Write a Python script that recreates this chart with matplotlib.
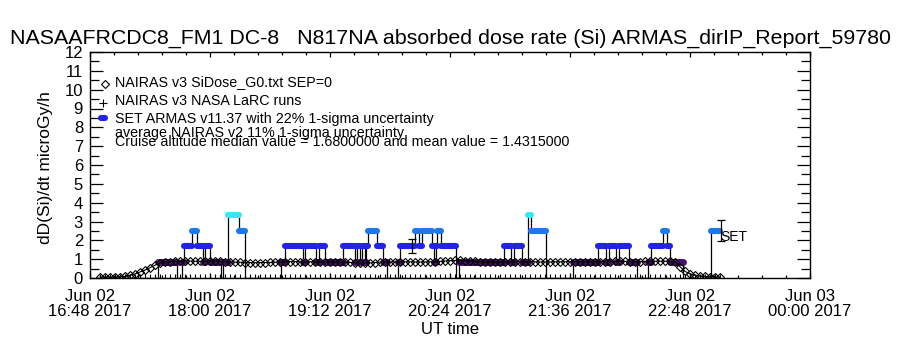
import numpy as np
import matplotlib
matplotlib.use("Agg")
import matplotlib.pyplot as plt
from matplotlib import font_manager
from matplotlib.collections import LineCollection
from matplotlib.ticker import MultipleLocator, AutoMinorLocator

# --- data (UT hours on 2017-06-02) -------------------------------------
# NAIRAS v3 model dose rate, 3-minute samples starting at 16:54 UT
model_t0, model_dt = 16.9, 0.05
model_v = [0.05, 0.05, 0.05, 0.06, 0.07, 0.08,
           0.15, 0.22, 0.32, 0.42, 0.55, 0.68, 0.80, 0.85,
           0.87, 0.88, 0.88, 0.90, 0.90, 0.89, 0.88, 0.88, 0.90, 0.90,
           0.88, 0.86, 0.85, 0.84, 0.84,
           0.82, 0.82, 0.81, 0.82, 0.82, 0.83, 0.84, 0.85,
           0.86, 0.87, 0.87, 0.86, 0.86, 0.86, 0.85, 0.85, 0.86, 0.86,
           0.85, 0.84, 0.84, 0.83,
           0.82, 0.80, 0.79, 0.80, 0.82, 0.84, 0.85, 0.85, 0.86, 0.86,
           0.86, 0.86, 0.85, 0.85, 0.85, 0.86, 0.86, 0.88, 0.90,
           0.92, 0.93, 0.93, 0.92, 0.90, 0.88, 0.87,
           0.86, 0.86, 0.85, 0.85, 0.85, 0.85, 0.86, 0.86, 0.86, 0.86,
           0.86, 0.85, 0.85, 0.85, 0.86, 0.86,
           0.86, 0.87, 0.87, 0.87, 0.87, 0.87, 0.87, 0.86, 0.86, 0.87,
           0.88, 0.88, 0.88, 0.87, 0.87, 0.87,
           0.88, 0.88, 0.89, 0.89, 0.89, 0.88, 0.86,
           0.60, 0.35, 0.22, 0.15, 0.10, 0.08, 0.06, 0.05, 0.05]
model_t = model_t0 + model_dt * np.arange(len(model_v))

# NAIRAS v3 NASA LaRC runs: no dose, plotted along zero on the same times
larc_v = np.zeros(len(model_v))

# ARMAS: quantised dose rate, one entry per run of equal readings
armas_start = [16.88, 17.48, 17.67, 17.72, 17.74, 17.82, 17.87, 17.93,
               17.95, 18.00, 18.11, 18.13, 18.18, 18.29, 18.35, 18.71,
               18.75, 18.93, 18.95, 19.06, 19.09, 19.15, 19.33, 19.45,
               19.47, 19.50, 19.52, 19.55, 19.56, 19.58, 19.67, 19.73,
               19.77, 19.88, 19.90, 20.05, 20.09, 20.12, 20.22, 20.24,
               20.26, 20.27, 20.31, 20.46, 20.49, 20.94, 21.01, 21.04,
               21.12, 21.18, 21.21, 21.36, 21.63, 21.88, 21.96, 21.99,
               22.06, 22.09, 22.19, 22.27, 22.38, 22.41, 22.53, 22.57,
               22.60, 22.73, 23.01]
armas_level = [0.00, 0.84, 0.00, 0.84, 1.68, 2.52, 1.68, 0.84,
               1.68, 0.84, 0.00, 0.84, 3.36, 2.52, 0.00, 0.84,
               1.68, 0.84, 1.68, 0.84, 1.68, 0.84, 1.68, 0.84,
               1.68, 0.84, 1.68, 0.84, 1.68, 2.52, 1.68, 0.84,
               0.00, 0.84, 1.68, 2.52, 1.68, 2.52, 1.68, 0.84,
               1.68, 2.52, 1.68, 0.00, 0.84, 1.68, 0.84, 1.68,
               0.84, 3.36, 2.52, 0.00, 0.84, 1.68, 0.84, 1.68,
               0.84, 1.68, 0.84, 0.00, 0.84, 1.68, 2.52, 1.68,
               0.84, 0.00, 2.52]
armas_end = 23.10

# 22% 1-sigma ARMAS uncertainty bars
err_t = [20.02, 23.105]
err_v = [1.68, 2.52]
err_frac = 0.22

level_colors = {0.84: "#4b0f6e", 1.68: "#2323e6", 2.52: "#1e78e6", 3.36: "#3ce6f0"}

xtick_hours = [16.8, 18.0, 19.2, 20.4, 21.6, 22.8, 24.0]
xtick_labels = ["Jun 02\n16:48 2017", "Jun 02\n18:00 2017", "Jun 02\n19:12 2017",
                "Jun 02\n20:24 2017", "Jun 02\n21:36 2017", "Jun 02\n22:48 2017",
                "Jun 03\n00:00 2017"]

title = "NASAAFRCDC8_FM1 DC-8   N817NA absorbed dose rate (Si) ARMAS_dirIP_Report_59780"
legend_lines = ["NAIRAS v3 SiDose_G0.txt SEP=0",
                "NAIRAS v3 NASA LaRC runs",
                "SET ARMAS v11.37 with 22% 1-sigma uncertainty",
                "average NAIRAS v2 11% 1-sigma uncertainty",
                "Cruise altitude median value = 1.6800000 and mean value = 1.4315000"]

# --- style ------------------------------------------------------------
names = {f.name for f in font_manager.fontManager.ttflist}
FONT = "Liberation Sans Narrow" if "Liberation Sans Narrow" in names else "Liberation Sans"
plt.rcParams["font.family"] = [FONT, "DejaVu Sans"]

W, H = 900, 350
fig = plt.figure(figsize=(9, 3.5), dpi=100)
ax = fig.add_axes([90 / W, 1 - 278 / H, 720 / W, 226 / H])


def fx(px):
    return px / W


def fy(py):
    return 1 - py / H


# ARMAS connecting line
xs = list(armas_start) + [armas_end]
ys = list(armas_level) + [armas_level[-1]]
ax.step(xs, ys, where="post", color="k", lw=0.9, zorder=2)

# ARMAS symbols, coloured by dose level
ends = list(armas_start[1:]) + [armas_end]
segs, cols, lws = [], [], []
for t0, t1, lv in zip(armas_start, ends, armas_level):
    if lv <= 0:
        continue
    segs.append([(t0, lv), (t1, lv)])
    cols.append(level_colors[lv])
    lws.append(5.0 if lv == 0.84 else 4.4)
lc = LineCollection(segs, colors=cols, linewidths=lws, capstyle="round", zorder=3)
ax.add_collection(lc)

# NAIRAS model
ax.plot(model_t, model_v, color="k", lw=0.8, marker="D", ms=4.2,
        mfc="none", mec="k", mew=0.8, zorder=4)
# LaRC runs along zero
ax.plot(model_t, larc_v, ls="none", marker="+", ms=6, color="k", mew=0.8, zorder=4)

ax.errorbar(err_t, err_v, yerr=err_frac * np.array(err_v), fmt="none",
            ecolor="k", elinewidth=0.9, capsize=2.6, capthick=0.9, zorder=5)
ax.text(err_t[-1], 2.18, "SET", fontsize=10, va="center", ha="left")

ax.set_xlim(16.8, 24.0)
ax.set_ylim(0, 12)
ax.set_xticks(xtick_hours)
ax.set_xticklabels(xtick_labels, fontsize=12, linespacing=0.95)
ax.xaxis.set_minor_locator(AutoMinorLocator(5))
ax.yaxis.set_major_locator(MultipleLocator(1))
ax.yaxis.set_minor_locator(AutoMinorLocator(2))
ax.tick_params(which="both", direction="in", top=True, right=True, width=0.9)
ax.tick_params(axis="y", which="major", length=9.5, labelsize=12, pad=5)
ax.tick_params(axis="y", which="minor", length=6.5)
ax.tick_params(axis="x", which="major", length=3.5, pad=8)
ax.tick_params(axis="x", which="minor", length=2.5)
for sp in ax.spines.values():
    sp.set_linewidth(1.0)

# titles and labels
fig.text(0.5, fy(38), title, ha="center", va="center", fontsize=15.4)
fig.text(fx(46), fy(168), "dD(Si)/dt microGy/h", rotation=90,
         ha="center", va="center", fontsize=12.5)
fig.text(0.5, fy(329), "UT time", ha="center", va="center", fontsize=12)

# IDL-style legend block (lines 4 and 5 overlap, as in the original)
legend_y = [82, 101, 119, 133, 142]
for txt, yy in zip(legend_lines, legend_y):
    fig.text(fx(115), fy(yy), txt, ha="left", va="center", fontsize=10.3)
ax.plot([fx(105)], [fy(84)], marker="D", ms=4.2, mfc="none", mec="k", mew=0.8,
        transform=fig.transFigure, clip_on=False)
ax.plot([fx(103)], [fy(103)], marker="+", ms=6, color="k", mew=0.8,
        transform=fig.transFigure, clip_on=False)
ax.plot([fx(101), fx(105)], [fy(118), fy(118)], color=level_colors[1.68], lw=4.4,
        solid_capstyle="round", transform=fig.transFigure, clip_on=False)

fig.savefig("out.png", dpi=100)
